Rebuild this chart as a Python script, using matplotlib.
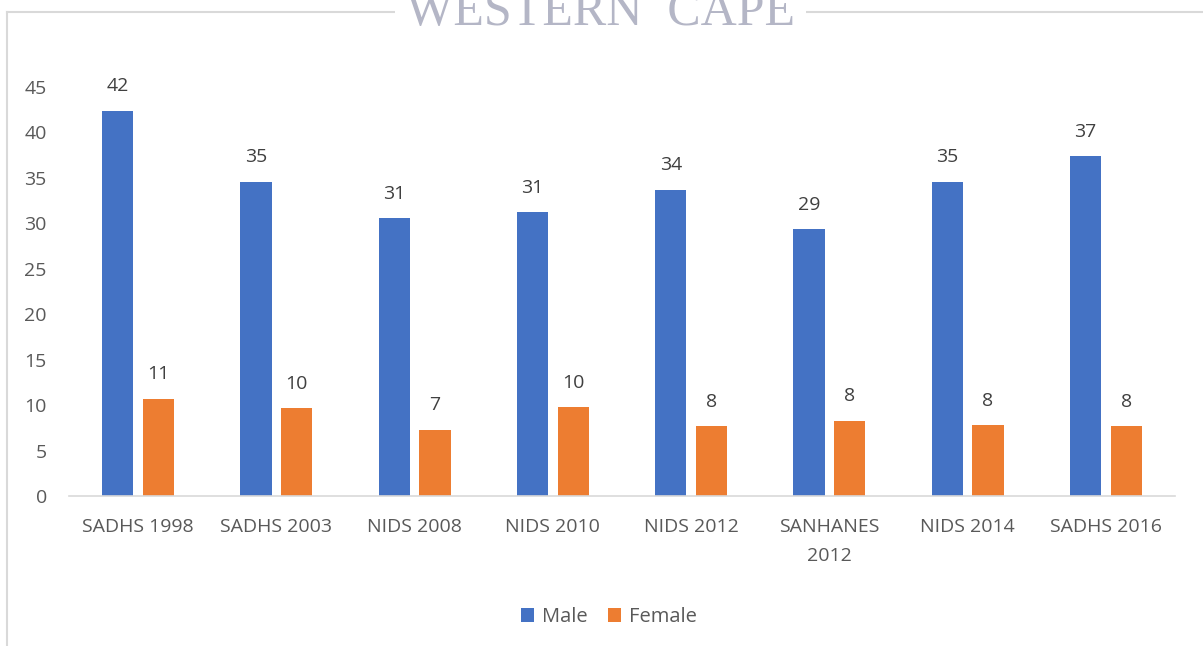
import matplotlib.pyplot as plt
import numpy as np
from matplotlib.lines import Line2D

categories = ["SADHS 1998", "SADHS 2003", "NIDS 2008", "NIDS 2010",
              "NIDS 2012", "SANHANES\n2012", "NIDS 2014", "SADHS 2016"]
male = [42.4, 34.6, 30.6, 31.2, 33.7, 29.4, 34.6, 37.4]
female = [10.7, 9.7, 7.3, 9.8, 7.7, 8.3, 7.8, 7.7]
yticks = [0, 5, 10, 15, 20, 25, 30, 35, 40, 45]

plt.rcParams['font.family'] = ['Open Sans', 'DejaVu Sans']
txt = '#595959'

fig = plt.figure(figsize=(12.03, 6.46), dpi=100)
W, H = 1203, 646
ax = fig.add_axes([69 / W, 1 - 496 / H, 1106 / W, (496 - 87) / H])

x = np.arange(len(categories))
bw = 0.225
b1 = ax.bar(x - 0.035 - bw / 2, male, bw, color='#4472c4', label='Male')
b2 = ax.bar(x + 0.035 + bw / 2, female, bw, color='#ed7d31', label='Female')
for bars in (b1, b2):
    ax.bar_label(bars, fmt='%.0f', padding=11, fontsize=14, color='#404040')

ax.set_xlim(-0.5, len(categories) - 0.5)
ax.set_ylim(0, 45)
ax.set_yticks(yticks)
ax.set_xticks(x)
ax.set_xticklabels(categories, fontsize=14, color=txt, linespacing=1.75)
ax.tick_params(axis='y', labelsize=14, labelcolor=txt, length=0, pad=16)
ax.tick_params(axis='x', length=0, pad=16)
for s in ['top', 'right', 'left']:
    ax.spines[s].set_visible(False)
ax.spines['bottom'].set_color('#d9d9d9')
ax.spines['bottom'].set_linewidth(1.2)

ax.legend(loc='upper center', bbox_to_anchor=(0.5 - 0.012, -0.227), ncol=2,
          frameon=False, fontsize=14.5, labelcolor=txt, handlelength=0.65,
          handleheight=0.65, columnspacing=1.0, handletextpad=0.4)

# chart frame and watermark
fig.add_artist(Line2D([7 / W, 1], [1 - 12 / H, 1 - 12 / H], color='#d9d9d9', lw=1.5))
fig.add_artist(Line2D([7 / W, 7 / W], [1 - 12 / H, 0], color='#d9d9d9', lw=1.5))
fig.text(600 / W, 1 - 25 / H, "WESTERN  CAPE", ha='center', va='baseline',
         family='Liberation Serif', fontsize=36, color='#b4b6c6',
         bbox=dict(facecolor='white', edgecolor='none', pad=8))

fig.savefig('out.png', dpi=100)
